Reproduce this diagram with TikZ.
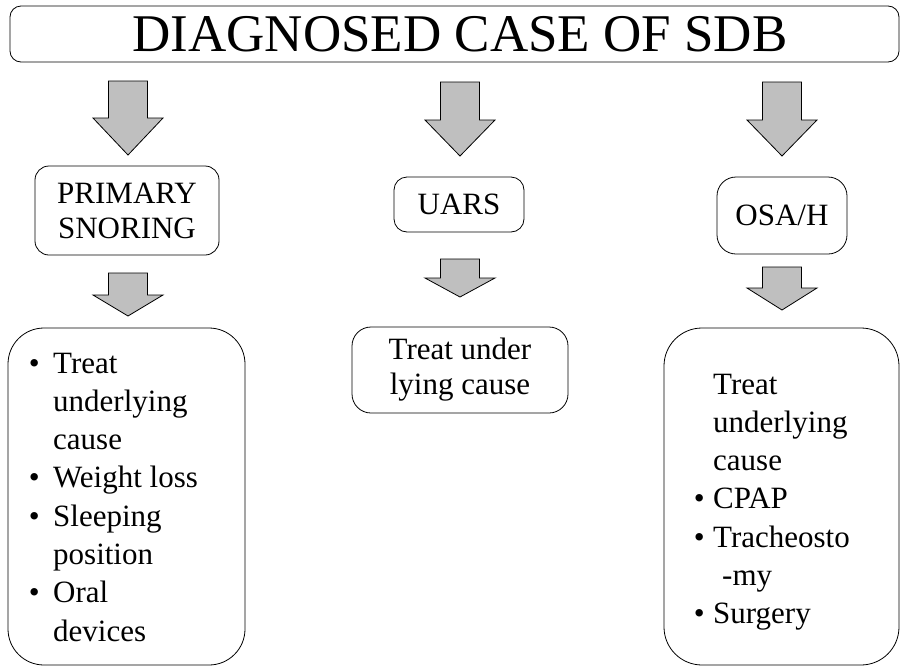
\documentclass[tikz,border=0pt]{standalone}
\usepackage{fontspec}
\setmainfont{Liberation Serif}
\tikzset{
  box/.style={draw, line width=0.8pt, rounded corners=14pt, inner sep=0pt, align=center, font=\fontsize{31}{35}\selectfont},
  listtext/.style={inner sep=0pt, align=left, font=\fontsize{31}{38.3}\selectfont},
  blockarrow/.style={draw, fill=black!25, line width=0.8pt}
}
% block arrow pointing down: x, top, neck, tip
\newcommand{\downblock}[4]{\draw[blockarrow] (#1-19.5,#2) -- (#1+19.5,#2) -- (#1+19.5,#3) -- (#1+35,#3) -- (#1,#4) -- (#1-35,#3) -- (#1-19.5,#3) -- cycle;}
\begin{document}
\begin{tikzpicture}[x=1pt,y=-1pt]
\useasboundingbox (0,0) rectangle (900,667);
%% Boxes
\node[box, rounded corners=11pt, minimum width=889, minimum height=56, font=\fontsize{53}{60}\selectfont](sdb) at (454.5,34) {\hspace*{11pt}DIAGNOSED CASE OF SDB};
\node[box, minimum width=184, minimum height=89](snoring) at (127,210.5) {PRIMARY\\SNORING};
\node[box, rounded corners=13pt, minimum width=130, minimum height=55](uars) at (459,204.5) {UARS};
\node[box, rounded corners=19pt, minimum width=130, minimum height=77](osah) at (782,215.5) {OSA/H};
\node[box, rounded corners=19pt, minimum width=216, minimum height=86](uarscare) at (460,370) {Treat under\\lying cause};
\node[box, rounded corners=36pt, minimum width=237, minimum height=337](snorecare) at (126.5,496.5) {};
\node[box, rounded corners=38pt, minimum width=235, minimum height=337](osahcare) at (781.5,496.5) {};
%% Texts
\node[listtext, anchor=north west](snoretext) at (28.6,352.5) {\makebox[24.4pt][l]{\textbullet}Treat\\\hspace*{24.4pt}underlying\\\hspace*{24.4pt}cause\\\makebox[24.4pt][l]{\textbullet}Weight loss\\\makebox[24.4pt][l]{\textbullet}Sleeping\\\hspace*{24.4pt}position\\\makebox[24.4pt][l]{\textbullet}Oral\\\hspace*{24.4pt}devices};
\node[listtext, anchor=north west](osahtext) at (693.6,373.5) {\hspace*{19.4pt}Treat\\\hspace*{19.4pt}underlying\\\hspace*{19.4pt}cause\\\makebox[19.4pt][l]{\textbullet}CPAP\\\makebox[19.4pt][l]{\textbullet}Tracheosto\\\hspace*{28.4pt}-my\\\makebox[19.4pt][l]{\textbullet}Surgery};
%% Arrows
\downblock{128}{81}{118}{155}
\downblock{128}{273}{295}{316}
\downblock{460}{82}{120}{156}
\downblock{460}{259}{278}{297}
\downblock{782}{82}{120}{156}
\downblock{782}{267}{288}{310}
\end{tikzpicture}
\end{document}
